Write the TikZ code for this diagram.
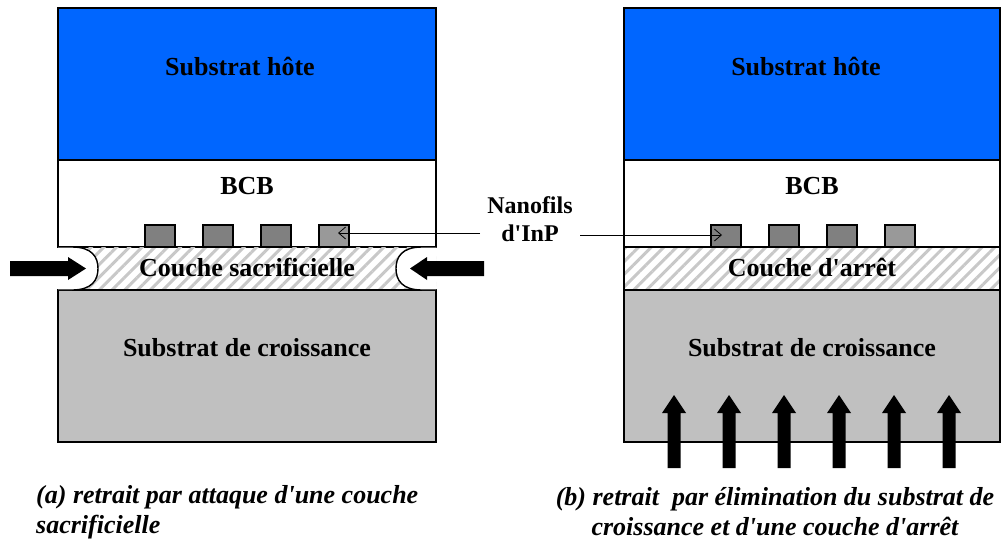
\documentclass[tikz,border=0pt]{standalone}
\usepackage{fontspec}
\setmainfont{Liberation Serif}[Ligatures=TeXOff]
\usetikzlibrary{arrows.meta,patterns.meta}
\definecolor{hoteblue}{HTML}{0066FF}
\definecolor{croisgray}{HTML}{C0C0C0}
\definecolor{filgray}{HTML}{808080}
\definecolor{filgraylight}{HTML}{999999}
\definecolor{hachgray}{HTML}{C8C8C8}

\begin{document}
\begin{tikzpicture}[x=1pt,y=-1pt,
  couche/.style={draw=black,line width=1.4pt},
  etiq/.style={font=\bfseries\fontsize{26}{30}\selectfont,inner sep=0pt},
  fil/.style={draw=black,line width=1.2pt,fill=filgray,minimum width=30pt,minimum height=22pt,inner sep=0pt},
  hachure/.style={pattern={Lines[angle=45,distance=9pt,line width=3pt]},pattern color=hachgray},
  fleche/.style={fill=black},
  pointeur/.style={line width=0.8pt,-{Straight Barb[length=7pt,width=12pt]}},
  legende/.style={font=\bfseries\itshape\fontsize{26}{30}\selectfont,inner sep=0pt}]
  \useasboundingbox (0,0) rectangle (1002,542);

  % (a) couche sacrificielle
  \draw[couche,fill=hoteblue] (58,8) rectangle (436,160);
  \draw[couche] (58,160) rectangle (436,247);
  \fill[hachure] (58,247) rectangle (436,290);
  \draw[couche,fill=croisgray] (58,290) rectangle (436,442);
  \filldraw[couche,fill=white] (58,247) -- (72,247) .. controls (92,247) and (98,257) .. (98,268.5)
    .. controls (98,280) and (92,290) .. (72,290) -- (58,290);
  \filldraw[couche,fill=white] (436,247) -- (422,247) .. controls (402,247) and (396,257) .. (396,268.5)
    .. controls (396,280) and (402,290) .. (422,290) -- (436,290);
  \fill[fleche] (10,261) -- (68,261) -- (68,257) -- (86,268.5) -- (68,280) -- (68,276) -- (10,276) -- cycle;
  \fill[fleche] (484,261) -- (427,261) -- (427,257) -- (410,268.5) -- (427,280) -- (427,276) -- (484,276) -- cycle;
  \foreach \i/\x in {1/160,2/218,3/276}
    \node[fil] (filA\i) at (\x,236) {};
  \node[fil,fill=filgraylight] (filA4) at (334,236) {};
  \node[etiq] (hoteA) at (240,66) {Substrat hôte};
  \node[etiq] (bcbA) at (247,186) {BCB};
  \node[etiq] (sacrA) at (247,267) {Couche sacrificielle};
  \node[etiq] (croisA) at (247,348) {Substrat de croissance};

  % (b) couche d'arret
  \draw[couche,fill=hoteblue] (624,8) rectangle (1000,160);
  \draw[couche] (624,160) rectangle (1000,247);
  \filldraw[couche,hachure] (624,247) rectangle (1000,290);
  \draw[couche,fill=croisgray] (624,290) rectangle (1000,442);
  \foreach \i/\x in {1/726,2/784,3/842}
    \node[fil] (filB\i) at (\x,236) {};
  \node[fil,fill=filgraylight] (filB4) at (900,236) {};
  \node[etiq] (hoteB) at (806,66) {Substrat hôte};
  \node[etiq] (bcbB) at (812,186) {BCB};
  \node[etiq] (arretB) at (812,267) {Couche d'arrêt};
  \node[etiq] (croisB) at (812,348) {Substrat de croissance};
  \foreach \x in {674,729,784,839,894,949}
    \fill[fleche] (\x-6.5,468) -- (\x-6.5,413) -- (\x-12,413) -- (\x,395) -- (\x+12,413)
      -- (\x+6.5,413) -- (\x+6.5,468) -- cycle;

  \node[font=\bfseries\fontsize{24}{28}\selectfont,align=center,inner sep=0pt] (nano) at (530,219) {Nanofils\\d'InP};
  \coordinate (nanoG) at (480,233);
  \coordinate (nanoD) at (580,235);
  \draw[pointeur] (nanoG) -- ([xshift=4pt]nanoG -| filA4.center);
  \draw[pointeur] (nanoD) -- ([xshift=-4pt]nanoD -| filB1.center);

  \node[legende,align=left,anchor=west] (legA) at (36,512) {(a) retrait par attaque d'une couche\\sacrificielle};
  \node[legende,align=center] (legB) at (775,512) {(b) retrait\ \ par élimination du substrat de\\croissance et d'une couche d'arrêt};
\end{tikzpicture}
\end{document}
